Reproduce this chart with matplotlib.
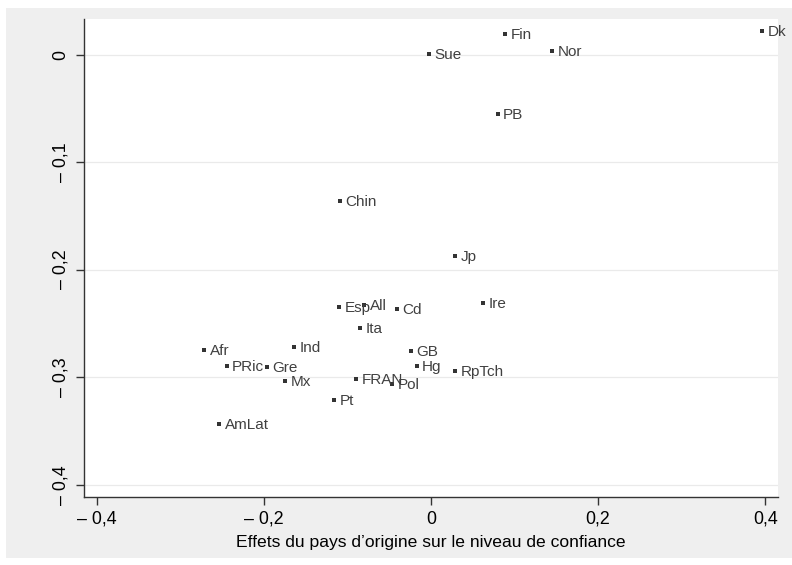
import matplotlib
matplotlib.use("Agg")
import matplotlib.pyplot as plt
from matplotlib.patches import Rectangle

plt.rcParams['font.family'] = ['Liberation Sans', 'DejaVu Sans']

countries = ["Dk", "Fin", "Nor", "Sue", "PB", "Chin", "Jp", "Ire", "Esp", "All",
             "Cd", "Ita", "Ind", "Afr", "GB", "PRic", "Gre", "Hg", "RpTch", "FRAN",
             "Mx", "Pol", "Pt", "AmLat"]
x_vals = [0.3965, 0.0889, 0.1452, -0.0020, 0.0798, -0.1089, 0.0293, 0.0626, -0.1098, -0.0798,
          -0.0411, -0.0846, -0.1636, -0.2713, -0.0239, -0.2445, -0.1966, -0.0171, 0.0291, -0.0898,
          -0.1744, -0.0463, -0.1157, -0.2534]
y_vals = [0.0219, 0.0191, 0.0035, 0.0002, -0.0553, -0.1360, -0.1870, -0.2309, -0.2346, -0.2330,
          -0.2361, -0.2538, -0.2718, -0.2742, -0.2752, -0.2895, -0.2904, -0.2898, -0.2938, -0.3012,
          -0.3037, -0.3065, -0.3214, -0.3437]

x_ticks = [-0.4, -0.2, 0.0, 0.2, 0.4]
x_tick_labels = ["\u2013 0,4", "\u2013 0,2", "0", "0,2", "0,4"]
y_ticks = [0.0, -0.1, -0.2, -0.3, -0.4]
y_tick_labels = ["0", "\u2013 0,1", "\u2013 0,2", "\u2013 0,3", "\u2013 0,4"]
x_label = "Effets du pays d\u2019origine sur le niveau de confiance"

W, H = 792, 565
fig = plt.figure(figsize=(W / 100, H / 100), dpi=100, facecolor="white")
bg = Rectangle((6 / W, 1 - 558 / H), (W - 6) / W, (558 - 8) / H,
               transform=fig.transFigure, facecolor="#efefef",
               edgecolor="none", zorder=-10)
fig.add_artist(bg)

ax = fig.add_axes([83.5 / W, 1 - 496.7 / H, (777.7 - 83.5) / W, (496.7 - 19) / H])
ax.set_zorder(1)
ax.set_facecolor("white")
ax.set_xlim(-0.416, 0.415)
ax.set_ylim(-0.411, 0.033)

for yt in y_ticks:
    ax.axhline(yt, color="#eaeaea", lw=0.9, zorder=1)

ax.scatter(x_vals, y_vals, marker="s", s=6, color="#333333", linewidths=0, zorder=3)
for name, xv, yv in zip(countries, x_vals, y_vals):
    ax.annotate(name, (xv, yv), xytext=(3.8, -0.8), textcoords="offset points",
                ha="left", va="center", fontsize=11, color="#404040", zorder=4)

for side in ["top", "right"]:
    ax.spines[side].set_visible(False)
for side in ["left", "bottom"]:
    ax.spines[side].set_color("#333333")
    ax.spines[side].set_linewidth(1.0)

ax.set_xticks(x_ticks)
ax.set_xticklabels(x_tick_labels)
ax.set_yticks(y_ticks)
ax.set_yticklabels(y_tick_labels, rotation=90, va="center")
ax.tick_params(axis="both", direction="out", length=6, width=1.0, color="#333333",
               labelsize=12.8, labelcolor="black", pad=4)
ax.set_xlabel(x_label, fontsize=12.6, color="black", labelpad=5)

fig.savefig("out.png", dpi=100, facecolor="white")
